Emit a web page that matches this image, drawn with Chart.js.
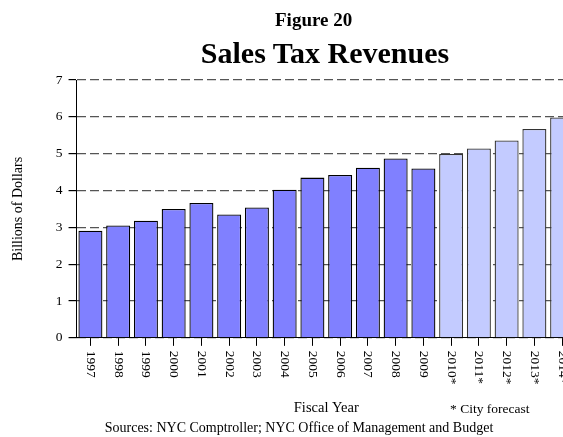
<!DOCTYPE html>
<html>
<head>
<meta charset="utf-8">
<script src="https://cdn.jsdelivr.net/npm/chart.js@4"></script>
<style>
  html, body { margin: 0; padding: 0; background: #fff; overflow: hidden; }
  #wrap { position: relative; width: 563px; height: 437px; overflow: hidden; }
  #salesChart { position: absolute; left: 0; top: 0; }
  .note { position: absolute; font-family: "Liberation Serif", "Times New Roman", serif; color: #000; white-space: nowrap; line-height: 1; }
</style>
</head>
<body>
<div id="wrap">
  <canvas id="salesChart" width="650" height="437"></canvas>
  <div class="note" style="left:275px; top:10px; font-size:19px; font-weight:bold;">Figure 20</div>
  <div class="note" style="left:0; width:650px; text-align:center; top:38px; font-size:30px; font-weight:bold;">Sales Tax Revenues</div>
  <div class="note" style="left:450px; top:402px; font-size:13.5px;">* City forecast</div>
  <div class="note" style="left:0; width:598px; text-align:center; top:421px; font-size:14px;">Sources: NYC Comptroller; NYC Office of Management and Budget</div>
</div>
<script>
// fiscal years, * = city forecast
const years = ['1997', '1998', '1999', '2000', '2001', '2002', '2003', '2004', '2005',
    '2006', '2007', '2008', '2009', '2010*', '2011*', '2012*', '2013*', '2014*'];
// billions of dollars
const revenues = [2.91, 3.05, 3.18, 3.50, 3.66, 3.35, 3.54, 4.02, 4.35,
    4.42, 4.62, 4.87, 4.60, 4.99, 5.14, 5.36, 5.67, 5.98];
const yTicks = [0, 1, 2, 3, 4, 5, 6, 7];

const serif = '"Liberation Serif", "Times New Roman", serif';

// draw the year labels turned clockwise (reading downwards)
const downLabels = {
    id: 'downLabels',
    afterDraw(chart) {
        const xs = chart.scales.x;
        const ctx = chart.ctx;
        ctx.save();
        ctx.font = '13.5px ' + serif;
        ctx.fillStyle = '#000';
        ctx.textAlign = 'left';
        ctx.textBaseline = 'middle';
        years.forEach((label, i) => {
            ctx.save();
            ctx.translate(xs.getPixelForTick(i), xs.top + 13);
            ctx.rotate(Math.PI / 2);
            ctx.fillText(label, 0, 0);
            ctx.restore();
        });
        ctx.restore();
    }
};

const ctx = document.getElementById('salesChart').getContext('2d');
const salesChart = new Chart(ctx, {
    type: 'bar',
    data: {
        labels: years,
        datasets: [{
            label: 'Sales Tax Revenues',
            data: revenues,
            backgroundColor: years.map(y => y.endsWith('*') ? '#c3cbff' : '#8080ff'),
            borderColor: years.map(y => y.endsWith('*') ? '#333' : '#000'),
            borderWidth: 1.3,
            borderSkipped: 'bottom',
            barPercentage: 0.865,
            categoryPercentage: 1
        }]
    },
    options: {
        responsive: false,
        animation: false,
        layout: { padding: { top: 80, right: 74, bottom: 16, left: 0 } },
        plugins: {
            legend: { display: false },
            tooltip: { enabled: false },
            title: { display: false }
        },
        scales: {
            x: {
                offset: true,
                grid: { display: true, drawOnChartArea: false, offset: false, tickLength: 8, tickColor: '#000' },
                border: { color: '#000', width: 1 },
                ticks: {
                    color: 'rgba(0,0,0,0)',
                    autoSkip: false,
                    minRotation: 90,
                    maxRotation: 90,
                    padding: 5,
                    font: { family: serif, size: 13.5 }
                },
                title: {
                    display: true,
                    text: 'Fiscal Year',
                    color: '#000',
                    font: { family: serif, size: 14.5 },
                    padding: { top: 10, bottom: 4 }
                }
            },
            y: {
                min: 0,
                max: 7,
                afterBuildTicks: (scale) => { scale.ticks = yTicks.map(v => ({ value: v })); },
                grid: { color: '#555', lineWidth: 1.2, tickLength: 8, tickColor: '#000', tickBorderDash: [] },
                border: { color: '#000', width: 1, dash: [9, 4] },
                ticks: {
                    color: '#000',
                    padding: 6,
                    font: { family: serif, size: 13.5 }
                },
                title: {
                    display: true,
                    text: 'Billions of Dollars',
                    color: '#000',
                    font: { family: serif, size: 14 },
                    padding: { top: 10, bottom: 23 }
                }
            }
        }
    },
    plugins: [downLabels]
});
</script>
</body>
</html>
